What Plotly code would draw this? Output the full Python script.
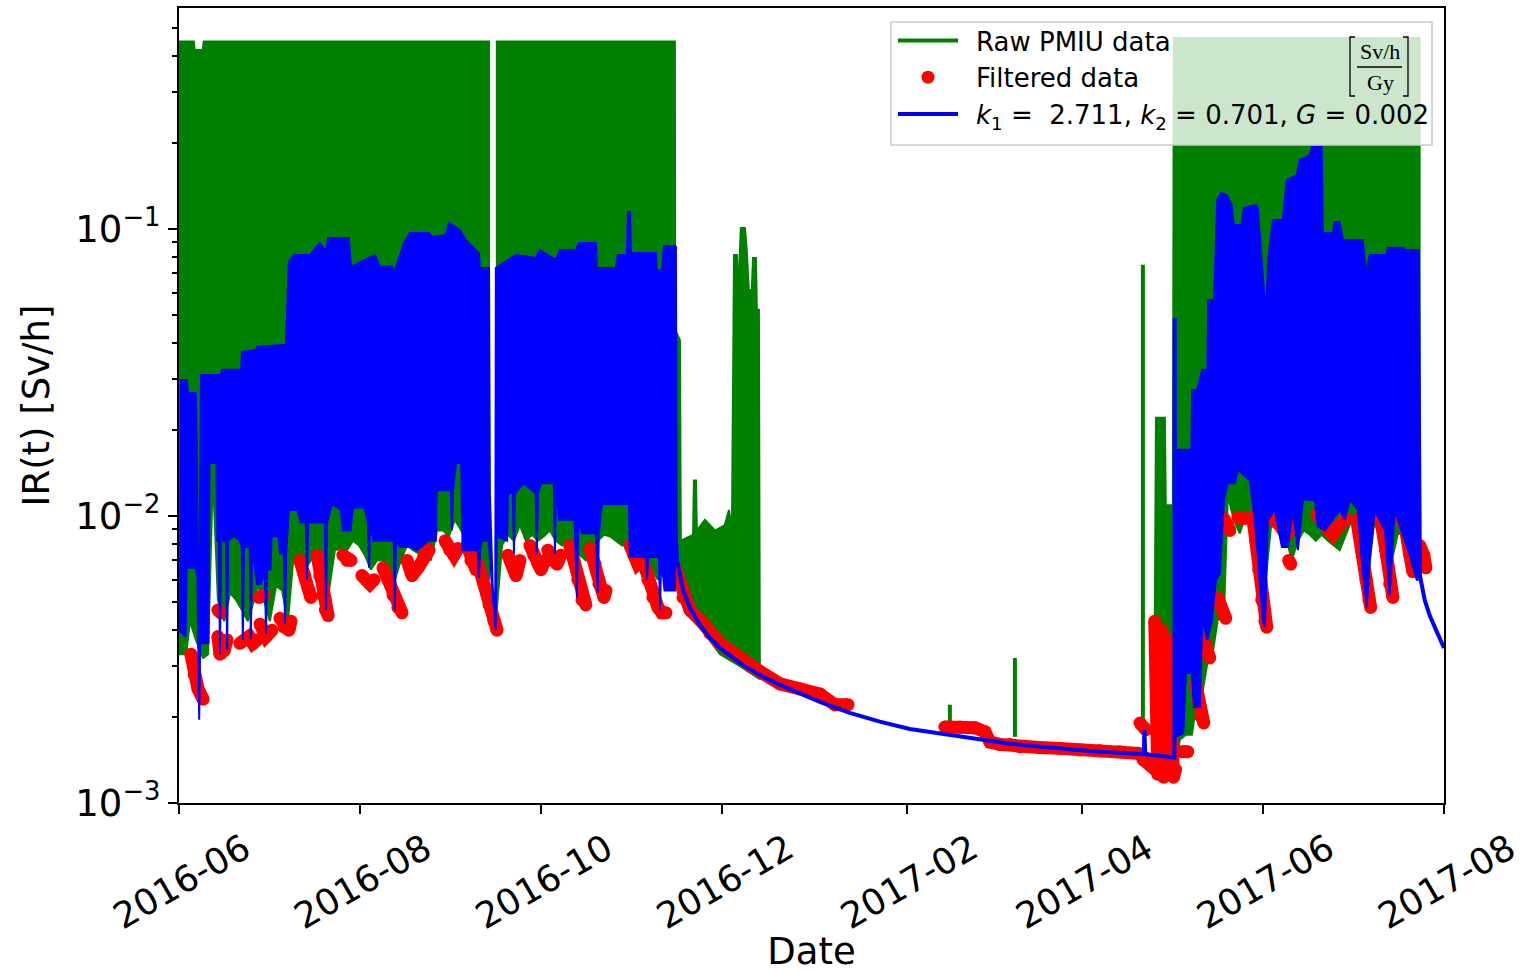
import datetime as dt
import plotly.graph_objects as go

# ---------------------------------------------------------------------------
# Data: time is given in days since 2016-06-01, values in Sv/h.
# ---------------------------------------------------------------------------
T0 = dt.datetime(2016, 6, 1)

# Raw PMIU signal: upper / lower envelopes of the densely sampled record
raw_a1_top = [(0.0, 0.45), (5.0, 0.45), (5.3, 0.42), (8.0, 0.42), (8.3, 0.45), (104.4, 0.45)]
raw_a1_low = [(0.0, 0.0033), (2.4, 0.0033), (3.7, 0.0043), (5.7, 0.0037), (8.1, 0.0032), (9.8, 0.0033),
              (11.4, 0.0139), (13.1, 0.0051), (15.2, 0.0043), (17.2, 0.0054), (19.2, 0.0051),
              (21.2, 0.0047), (23.2, 0.0043), (25.3, 0.0051), (26.6, 0.0057), (28.6, 0.0051),
              (30.6, 0.0043), (32.7, 0.0057), (34.7, 0.0055), (36.7, 0.0043), (38.4, 0.0069),
              (40.4, 0.0069), (42.4, 0.0065), (44.4, 0.0070), (46.5, 0.0076), (48.5, 0.0060),
              (50.5, 0.0055), (52.5, 0.0076), (54.5, 0.0077), (56.6, 0.0076), (58.6, 0.0082),
              (60.6, 0.0079), (62.6, 0.0073), (64.6, 0.0065), (66.7, 0.0070), (68.7, 0.0070),
              (70.7, 0.0060), (72.7, 0.0060), (74.7, 0.0070), (76.8, 0.0079), (78.8, 0.0076),
              (80.8, 0.0074), (82.8, 0.0076), (84.8, 0.0070), (86.9, 0.0089), (88.9, 0.0089),
              (90.9, 0.0085), (92.9, 0.0097), (94.9, 0.0089), (97.0, 0.0082), (99.0, 0.0079),
              (101.0, 0.0070), (103.0, 0.0065), (104.4, 0.0060)]

raw_a2_top = [(106.7, 0.45), (167.0, 0.45), (167.1, 0.0445), (168.7, 0.041), (169.0, 0.0082),
              (173.1, 0.0086), (173.4, 0.0133), (174.1, 0.0133), (174.4, 0.0089), (177.1, 0.0097),
              (180.5, 0.0089), (183.8, 0.0093), (185.2, 0.0105), (186.2, 0.0089), (186.9, 0.0812),
              (187.9, 0.0812), (188.2, 0.0566), (189.2, 0.1008), (190.6, 0.1008), (191.2, 0.0845),
              (191.9, 0.0613), (192.9, 0.0613), (193.3, 0.0792), (194.3, 0.0792), (194.6, 0.0523),
              (195.3, 0.0523), (195.6, 0.0031)]
raw_a2_low = [(106.7, 0.0043), (108.8, 0.0079), (110.8, 0.0086), (112.8, 0.0082), (114.8, 0.0093),
              (116.8, 0.0082), (118.9, 0.0086), (120.9, 0.0082), (122.9, 0.0085), (124.9, 0.0089),
              (126.9, 0.0082), (129.0, 0.0079), (131.0, 0.0082), (133.0, 0.0082), (135.0, 0.0073),
              (137.0, 0.0070), (139.1, 0.0079), (141.1, 0.0082), (143.1, 0.0086), (145.1, 0.0085),
              (147.1, 0.0082), (149.2, 0.0079), (151.2, 0.0079), (153.2, 0.0076), (155.2, 0.0073),
              (157.2, 0.0070), (159.3, 0.0065), (161.3, 0.0060), (163.3, 0.0070), (165.3, 0.0076),
              (167.0, 0.0076), (169.0, 0.0060), (172.1, 0.0047), (175.4, 0.0041), (182.2, 0.0033),
              (188.9, 0.0030), (195.6, 0.0027)]

raw_b_top = [(327.9, 0.0043), (328.6, 0.0043), (329.0, 0.0220), (332.0, 0.0220), (332.3, 0.0109),
             (334.7, 0.0109), (335.0, 0.463), (417.8, 0.463)]
raw_b_low = [(327.9, 0.00125), (335.4, 0.00125), (337.0, 0.00166), (339.1, 0.00173), (341.1, 0.00173),
             (342.8, 0.00229), (344.8, 0.00248), (346.5, 0.00315), (348.1, 0.00333), (349.8, 0.00434),
             (351.9, 0.00452), (353.2, 0.0118), (355.2, 0.0097), (357.2, 0.0087), (359.3, 0.0101),
             (361.3, 0.0101), (363.3, 0.0082), (365.3, 0.0051), (366.7, 0.0070), (368.7, 0.0116),
             (370.7, 0.0101), (372.7, 0.0086), (374.7, 0.0070), (376.8, 0.0082), (378.8, 0.0089),
             (380.8, 0.0086), (382.8, 0.0082), (384.8, 0.0086), (386.9, 0.0082), (388.9, 0.0079),
             (390.9, 0.0076), (392.9, 0.0086), (394.9, 0.0097), (397.0, 0.0089), (399.0, 0.0070),
             (400.3, 0.0060), (402.4, 0.0093), (404.4, 0.0089), (406.4, 0.0079), (408.4, 0.0070),
             (410.4, 0.0086), (412.5, 0.0089), (414.5, 0.0079), (416.5, 0.0070), (417.8, 0.0070)]

# isolated raw readings during the shutdown: (day, base, peak)
raw_spike_day = [222.6, 259.6, 281.5, 324.6]
raw_spike_base = [0.0021, 0.0018, 0.0017, 0.0018]
raw_spike_peak = [0.0023, 0.0022, 0.0032, 0.075]

# Filtered data (None separates consecutive runs of readings)
filt_points = [
    (4.0, 0.0033), (5.1, 0.0028), (6.4, 0.0025), (8.1, 0.0023), None,
    (13.1, 0.0047), (14.1, 0.0046), None,
    (13.1, 0.0038), (13.8, 0.0033), (15.2, 0.0034), (16.2, 0.0037), None,
    (20.5, 0.0036), (22.2, 0.0037), (23.6, 0.0038), (24.9, 0.0036), (26.3, 0.0037), None,
    (26.9, 0.0052), (28.6, 0.0053), None,
    (27.3, 0.0042), (29.3, 0.0038), (31.3, 0.0040), None,
    (34.0, 0.0044), (35.4, 0.0041), (37.0, 0.0040), (37.7, 0.0043), None,
    (40.7, 0.0070), (42.4, 0.0062), (43.8, 0.0055), (44.4, 0.0052), None,
    (46.5, 0.0073), (47.4, 0.0062), (48.3, 0.0053), (49.3, 0.0047), (50.2, 0.0045), None,
    (55.2, 0.0073), (56.6, 0.0070), (57.9, 0.0070), None,
    (61.6, 0.0062), (63.0, 0.0060), (64.3, 0.0058), (65.7, 0.0060), None,
    (68.7, 0.0066), (70.4, 0.0060), (72.1, 0.0053), (73.7, 0.0048), (75.1, 0.0046), None,
    (76.8, 0.0070), (78.5, 0.0062), (80.5, 0.0066), (82.5, 0.0073), (84.2, 0.0076), None,
    (89.6, 0.0082), (91.2, 0.0076), (92.6, 0.0073), (93.9, 0.0077), None,
    (97.0, 0.0079), (98.3, 0.0070), (100.0, 0.0065), None,
    (100.7, 0.0068), (102.7, 0.0058), (104.4, 0.0049), (106.1, 0.0043), (107.1, 0.0040), None,
    (110.8, 0.0073), (112.1, 0.0068), (113.5, 0.0062), (114.8, 0.0070), None,
    (118.2, 0.0079), (119.5, 0.0073), (120.9, 0.0068), (121.9, 0.0065), (123.2, 0.0070), None,
    (124.2, 0.0076), (125.9, 0.0070), (127.3, 0.0068), (128.6, 0.0073), None,
    (131.6, 0.0079), (133.0, 0.0070), (134.3, 0.0060), (135.7, 0.0051), (137.0, 0.0049), None,
    (138.4, 0.0077), (140.1, 0.0068), (141.4, 0.0058), (143.1, 0.0052), (143.8, 0.0055), None,
    (151.9, 0.0079), (153.2, 0.0073), (154.5, 0.0068), (155.9, 0.0070), None,
    (156.2, 0.0070), (157.9, 0.0060), (159.6, 0.0052), (161.3, 0.0048), (162.6, 0.0046), (164.0, 0.0046), None,
    (164.3, 0.0079), (166.0, 0.0070), (167.7, 0.0060), (169.7, 0.0052), (172.1, 0.0047), (175.4, 0.00435),
    (178.8, 0.0039), (182.2, 0.0036), (187.2, 0.0033), (192.3, 0.0030), (197.3, 0.0028), (202.4, 0.0026),
    (209.1, 0.0025), (215.8, 0.0024), (220.9, 0.0022), (225.3, 0.0022), None,
    (257.9, 0.00184), (263.0, 0.00184), (268.0, 0.00183), (271.4, 0.00177), (273.1, 0.00163),
    (276.4, 0.00160), (279.8, 0.00160), (283.2, 0.00157), (289.9, 0.00156), (296.6, 0.00155),
    (303.4, 0.00153), (310.1, 0.00152), (316.8, 0.00151), (322.9, 0.00149), (327.0, 0.00140), None,
    (323.6, 0.0019), (325.6, 0.0018), None,
    (324.6, 0.00142), (327.0, 0.00136), (329.0, 0.00130), None,
    (328.6, 0.0043), (329.3, 0.0023), (329.6, 0.00126), None,
    (331.0, 0.0040), (331.3, 0.0023), (331.6, 0.00123), None,
    (333.0, 0.0037), (333.7, 0.0019), (334.3, 0.00126), (334.9, 0.00123), (335.6, 0.00131), None,
    (337.7, 0.00151), (339.7, 0.00151), None,
    (342.4, 0.0026), (343.1, 0.0023), (344.1, 0.0020), (345.1, 0.0019), None,
    (345.1, 0.0037), (346.1, 0.0034), (347.1, 0.0032), None,
    (349.8, 0.0052), (351.2, 0.0047), (352.5, 0.0044), None,
    (351.9, 0.0098), (353.2, 0.0093), (353.9, 0.0089), None,
    (356.6, 0.0099), (359.0, 0.0098), None,
    (361.6, 0.0099), (362.6, 0.0082), (363.6, 0.0065), (364.6, 0.0051), (365.7, 0.0043), (366.3, 0.0041), None,
    (368.4, 0.0097), (370.7, 0.0093), (372.7, 0.0086), (374.1, 0.0089), (376.1, 0.0095), None,
    (373.7, 0.0070), (374.4, 0.0068), None,
    (383.2, 0.0101), (384.8, 0.0097), (386.9, 0.0089), (388.6, 0.0086), (390.9, 0.0093), (392.9, 0.0098), None,
    (396.6, 0.0097), (398.3, 0.0076), (399.7, 0.0060), (400.7, 0.0051), (401.3, 0.0048), None,
    (403.0, 0.0099), (404.7, 0.0097), (406.4, 0.0076), (407.7, 0.0058), (408.8, 0.0052), None,
    (411.1, 0.0101), (412.8, 0.0093), (414.5, 0.0073), (415.5, 0.0064), (416.5, 0.0068),
    (417.8, 0.0079), (419.2, 0.0073), (419.9, 0.0066),
]

# Model fit: envelopes of the rapidly oscillating parts, plus the decay curves
fit_a_top = [(0.3, 0.0298), (2.7, 0.0298), (3.0, 0.0268), (5.7, 0.0268), (6.1, 0.0150), (6.8, 0.0021),
             (7.2, 0.0150), (7.4, 0.0310), (14.1, 0.0310), (14.5, 0.0323), (20.9, 0.0323), (21.2, 0.0373),
             (25.9, 0.0379), (26.3, 0.0388), (36.0, 0.0395), (37.0, 0.0768), (38.7, 0.0812), (44.1, 0.0812),
             (47.5, 0.0894), (49.5, 0.0832), (50.2, 0.0930), (57.2, 0.0930), (57.9, 0.0738), (66.0, 0.0812),
             (67.7, 0.0738), (71.7, 0.0738), (72.4, 0.0703), (75.8, 0.0894), (77.8, 0.0968), (84.2, 0.0968),
             (85.2, 0.0938), (89.9, 0.0953), (90.9, 0.105), (91.9, 0.1033), (94.6, 0.0993), (96.6, 0.0916),
             (101.0, 0.0824), (101.3, 0.0731), (104.4, 0.0731), (104.7, 0.012), (105.6, 0.0058),
             (106.5, 0.0043), (106.7, 0.0731), (109.8, 0.0768), (113.5, 0.0812), (120.2, 0.0792),
             (121.5, 0.0845), (126.9, 0.0780), (128.3, 0.0845), (133.7, 0.0845), (134.7, 0.0894),
             (140.4, 0.0894), (140.7, 0.0731), (147.1, 0.0731), (147.8, 0.0812), (150.8, 0.0812),
             (151.2, 0.1146), (151.9, 0.1146), (152.2, 0.0824), (160.6, 0.0824), (160.9, 0.0719),
             (162.6, 0.0719), (163.3, 0.0873), (167.0, 0.0873)]
fit_a_low = [(0.0, 0.0040), (2.2, 0.0038), (2.6, 0.0066), (5.8, 0.0066), (6.2, 0.0060), (6.8, 0.00195),
             (7.4, 0.0060), (7.8, 0.0036), (9.9, 0.0036), (10.3, 0.0153), (12.6, 0.0153), (12.9, 0.0082),
             (13.4, 0.0082), (13.8, 0.0033), (14.2, 0.0082), (15.8, 0.0082), (16.2, 0.0034), (16.6, 0.0082),
             (18.5, 0.0085), (20.4, 0.0082), (21.1, 0.0078), (21.5, 0.0037), (21.9, 0.0078), (23.8, 0.0078),
             (24.2, 0.0037), (24.6, 0.0078), (26.3, 0.0058), (27.6, 0.0058), (28.9, 0.0065), (29.3, 0.0039),
             (29.7, 0.0065), (30.8, 0.0065), (31.2, 0.0085), (33.5, 0.0085), (34.0, 0.0074), (35.3, 0.0074),
             (35.7, 0.0042), (36.1, 0.0074), (37.0, 0.0105), (40.0, 0.0105), (41.0, 0.0095), (42.7, 0.0095),
             (43.1, 0.0060), (43.5, 0.0095), (45.5, 0.0095), (48.0, 0.0095), (49.1, 0.0095), (49.5, 0.0047),
             (49.9, 0.0095), (51.5, 0.0110), (54.5, 0.0105), (55.2, 0.0089), (57.8, 0.0089), (58.5, 0.0107),
             (62.5, 0.0107), (63.6, 0.0095), (64.0, 0.0066), (64.4, 0.0095), (65.5, 0.0082), (71.0, 0.0082),
             (72.3, 0.0082), (72.7, 0.0047), (73.1, 0.0082), (74.5, 0.0078), (78.0, 0.0078), (80.0, 0.0076),
             (84.0, 0.0082), (86.5, 0.0082), (86.8, 0.0123), (90.5, 0.0123), (91.5, 0.0123), (91.9, 0.0089),
             (92.3, 0.0123), (93.3, 0.0153), (95.0, 0.0153), (95.5, 0.0076), (100.0, 0.0076), (100.6, 0.0076),
             (101.0, 0.0061), (101.4, 0.0076), (102.0, 0.0082), (104.2, 0.0082), (106.6, 0.0040),
             (107.0, 0.0085), (110.5, 0.0082), (110.8, 0.0120), (112.4, 0.0120), (112.8, 0.0074),
             (113.2, 0.0120), (116.0, 0.0130), (120.1, 0.0120), (120.5, 0.0074), (120.9, 0.0120),
             (122.0, 0.0130), (126.2, 0.0130), (126.6, 0.0074), (127.0, 0.0130), (128.0, 0.0097),
             (132.3, 0.0097), (133.2, 0.0097), (134.0, 0.0052), (134.5, 0.0097), (135.7, 0.0087),
             (140.4, 0.0087), (141.0, 0.0054), (141.4, 0.0087), (142.4, 0.0110), (151.5, 0.0110),
             (151.8, 0.0072), (155.9, 0.0072), (157.2, 0.0072), (157.6, 0.0060), (158.0, 0.0072),
             (161.6, 0.0072), (162.0, 0.0047), (162.4, 0.0072), (163.5, 0.0055), (167.0, 0.0055)]

fit_b_top = [(335.5, 0.0170), (340.9, 0.0170), (341.2, 0.0275), (342.9, 0.0275), (344.6, 0.0323),
             (346.3, 0.0323), (346.6, 0.0566), (348.6, 0.0566), (349.6, 0.126), (350.9, 0.1334),
             (352.9, 0.1310), (354.5, 0.1213), (355.2, 0.1033), (357.8, 0.1033), (358.6, 0.1184),
             (362.6, 0.121), (363.3, 0.118), (363.9, 0.0938), (364.6, 0.078), (365.9, 0.050),
             (366.9, 0.081), (368.4, 0.1075), (371.7, 0.1075), (373.1, 0.148), (376.4, 0.154),
             (377.4, 0.174), (380.8, 0.181), (381.5, 0.193), (384.8, 0.193), (385.2, 0.0968),
             (388.6, 0.0968), (389.2, 0.1058), (390.9, 0.1058), (391.9, 0.0916), (398.7, 0.0916),
             (399.7, 0.0692), (401.0, 0.0812), (406.7, 0.0812), (407.1, 0.086), (412.1, 0.086),
             (412.8, 0.0845), (417.2, 0.0845)]
fit_b_low = [(335.5, 0.00170), (338.2, 0.00175), (339.1, 0.00284), (341.1, 0.00284), (341.8, 0.00216),
             (343.8, 0.00216), (344.6, 0.00434), (346.3, 0.0037), (347.8, 0.0043), (349.2, 0.0060),
             (350.5, 0.0063), (351.9, 0.0114), (353.2, 0.0130), (355.6, 0.0130), (356.6, 0.0145),
             (360.6, 0.0133), (362.3, 0.0097), (365.0, 0.0043), (365.7, 0.0041), (366.7, 0.0097),
             (369.0, 0.0105), (371.4, 0.0078), (373.4, 0.0078), (375.1, 0.0105), (376.8, 0.0076),
             (378.5, 0.0114), (382.5, 0.0114), (383.5, 0.0092), (385.9, 0.0089), (391.0, 0.0105),
             (392.6, 0.0097), (394.3, 0.0114), (397.0, 0.0105), (398.3, 0.0070), (400.0, 0.0048),
             (401.0, 0.0070), (402.7, 0.0105), (406.1, 0.0089), (407.7, 0.0053), (409.4, 0.0105),
             (412.8, 0.0082), (414.5, 0.0073), (416.8, 0.0060), (417.2, 0.0060)]

fit_decay = [(167.0, 0.0873), (167.3, 0.0086), (167.7, 0.00703), (169.7, 0.00552), (172.1, 0.00478),
             (175.4, 0.00417), (178.8, 0.00376), (182.2, 0.00347), (188.9, 0.00307), (195.6, 0.00279),
             (202.4, 0.00258), (209.1, 0.00240), (215.8, 0.00225), (225.9, 0.00206), (236.0, 0.00192),
             (246.1, 0.00181), (259.6, 0.00173), (269.7, 0.00166), (279.8, 0.00161), (293.3, 0.00156),
             (310.1, 0.00151), (324.9, 0.00148), (325.1, 0.0018), (325.4, 0.00148), (334.7, 0.00144),
             (335.2, 0.00144), (335.3, 0.049), (335.5, 0.0017)]
fit_tail = [(417.2, 0.0845), (417.6, 0.0085), (417.9, 0.0062), (419.5, 0.0051), (421.2, 0.0045),
            (422.9, 0.0041), (424.6, 0.00376), (426.0, 0.00347)]

# Axis ticks and labels
x_tick_dates = ["2016-06-01", "2016-08-01", "2016-10-01", "2016-12-01",
                "2017-02-01", "2017-04-01", "2017-06-01", "2017-08-01"]
x_tick_text = ["2016-06", "2016-08", "2016-10", "2016-12",
               "2017-02", "2017-04", "2017-06", "2017-08"]
y_tick_vals = [0.001, 0.01, 0.1]
y_tick_text = ["10<sup>\u22123</sup>", "10<sup>\u22122</sup>", "10<sup>\u22121</sup>"]
y_minor_vals = [0.002, 0.003, 0.004, 0.005, 0.006, 0.007, 0.008, 0.009,
                0.02, 0.03, 0.04, 0.05, 0.06, 0.07, 0.08, 0.09,
                0.2, 0.3, 0.4, 0.5]

legend_names = ["Raw PMIU data", "Filtered data",
                "<i>k</i><sub>1</sub> =  2.711, <i>k</i><sub>2</sub> = 0.701, <i>G</i> = 0.002"]

GREEN, RED, BLUE = "#008000", "#ff0000", "#0000ff"


def when(day):
    return None if day is None else (T0 + dt.timedelta(days=day)).isoformat()


def unpack(points):
    xs, ys = [], []
    for p in points:
        if p is None:
            xs.append(None)
            ys.append(None)
        else:
            xs.append(when(p[0]))
            ys.append(p[1])
    return xs, ys


def band(top, low):
    # closed outline: upper edge left to right, lower edge back right to left
    return unpack(list(top) + list(reversed(low)))


fig = go.Figure()

# raw data blocks
for top, low in [(raw_a1_top, raw_a1_low), (raw_a2_top, raw_a2_low), (raw_b_top, raw_b_low)]:
    bx, by = band(top, low)
    fig.add_trace(go.Scatter(x=bx, y=by, mode="lines", fill="toself", fillcolor=GREEN,
                             line=dict(color=GREEN, width=2), showlegend=False, hoverinfo="skip"))

sx, sy = [], []
for d, b, p in zip(raw_spike_day, raw_spike_base, raw_spike_peak):
    sx += [when(d), when(d), None]
    sy += [b, p, None]
fig.add_trace(go.Scatter(x=sx, y=sy, mode="lines", line=dict(color=GREEN, width=4),
                         showlegend=False, hoverinfo="skip"))

# filtered points
fx, fy = unpack(filt_points)
fig.add_trace(go.Scatter(x=fx, y=fy, mode="lines+markers", line=dict(color=RED, width=13),
                         marker=dict(color=RED, size=13), connectgaps=False,
                         showlegend=False, hoverinfo="skip"))

# model fit
for top, low in [(fit_a_top, fit_a_low), (fit_b_top, fit_b_low)]:
    bx, by = band(top, low)
    fig.add_trace(go.Scatter(x=bx, y=by, mode="lines", fill="toself", fillcolor=BLUE,
                             line=dict(color=BLUE, width=2), showlegend=False, hoverinfo="skip"))
for curve in (fit_decay, fit_tail):
    cx, cy = unpack(curve)
    fig.add_trace(go.Scatter(x=cx, y=cy, mode="lines", line=dict(color=BLUE, width=4),
                             showlegend=False, hoverinfo="skip"))

# legend entries (an en space separates the handle from the label)
fig.add_trace(go.Scatter(x=[None], y=[None], mode="lines", line=dict(color=GREEN, width=4),
                         name="\u2002" + legend_names[0], legendgroup="a"))
fig.add_trace(go.Scatter(x=[None], y=[None], mode="markers", marker=dict(color=RED, size=13),
                         name="\u2002" + legend_names[1], legendgroup="b"))
fig.add_trace(go.Scatter(x=[None], y=[None], mode="lines", line=dict(color=BLUE, width=4),
                         name="\u2002" + legend_names[2], legendgroup="c"))

L, R, T, B = 179, 1444, 8, 803


def px(xp):
    return (xp - L) / (R - L)


def py(yp):
    return 1 - (yp - T) / (B - T)


shapes = [
    # legend frame
    dict(type="rect", xref="paper", yref="paper", x0=px(891), x1=px(1432), y0=py(145), y1=py(22),
         fillcolor="rgba(255,255,255,0.8)", line=dict(color="#cccccc", width=1.5), layer="above"),
    # unit bracket and fraction bar
    dict(type="path", xref="paper", yref="paper", layer="above", line=dict(color="black", width=1.3),
         path=f"M{px(1355)},{py(37)} L{px(1350)},{py(37)} L{px(1350)},{py(96)} L{px(1355)},{py(96)}"),
    dict(type="path", xref="paper", yref="paper", layer="above", line=dict(color="black", width=1.3),
         path=f"M{px(1403)},{py(37)} L{px(1408)},{py(37)} L{px(1408)},{py(96)} L{px(1403)},{py(96)}"),
    dict(type="line", xref="paper", yref="paper", layer="above", line=dict(color="black", width=1.3),
         x0=px(1357), x1=px(1402), y0=py(67), y1=py(67)),
]
annotations = [
    dict(text="Sv/h", x=px(1380), y=py(52), xref="paper", yref="paper", showarrow=False,
         xanchor="center", yanchor="middle",
         font=dict(family="Liberation Serif", size=22, color="black")),
    dict(text="Gy", x=px(1380), y=py(83), xref="paper", yref="paper", showarrow=False,
         xanchor="center", yanchor="middle",
         font=dict(family="Liberation Serif", size=22, color="black")),
]

axis_common = dict(showline=True, linecolor="black", linewidth=2, mirror=True, showgrid=False,
                   zeroline=False, ticks="outside", ticklen=9, tickwidth=2, tickcolor="black",
                   automargin=False)

fig.update_layout(
    width=1521, height=973,
    margin=dict(l=L, r=1521 - R, t=T, b=973 - B, pad=0),
    paper_bgcolor="white", plot_bgcolor="white",
    font=dict(family="DejaVu Sans", color="black"),
    showlegend=True,
    legend=dict(x=px(893), y=py(17), xanchor="left", yanchor="top",
                bgcolor="rgba(0,0,0,0)", borderwidth=0, font=dict(size=26),
                itemwidth=60, tracegroupgap=8, traceorder="normal"),
    shapes=shapes,
    annotations=annotations,
    xaxis=dict(type="date", range=["2016-06-01", "2017-08-01"],
               tickmode="array", tickvals=x_tick_dates, ticktext=x_tick_text, tickangle=-30,
               tickfont=dict(size=36, color="black"),
               ticklabelshift=65, ticklabeloverflow="allow",
               title=dict(text="Date", font=dict(size=37), standoff=9),
               **axis_common),
    yaxis=dict(type="log", range=[-3, -0.23],
               tickmode="array", tickvals=y_tick_vals, ticktext=y_tick_text,
               tickfont=dict(size=37, color="black"),
               minor=dict(tickmode="array", tickvals=y_minor_vals, ticks="outside",
                          ticklen=5, tickwidth=1.5, tickcolor="black", showgrid=False),
               title=dict(text="IR(t) [Sv/h]", font=dict(size=37), standoff=14),
               **axis_common),
)

fig.write_html("out.html")
